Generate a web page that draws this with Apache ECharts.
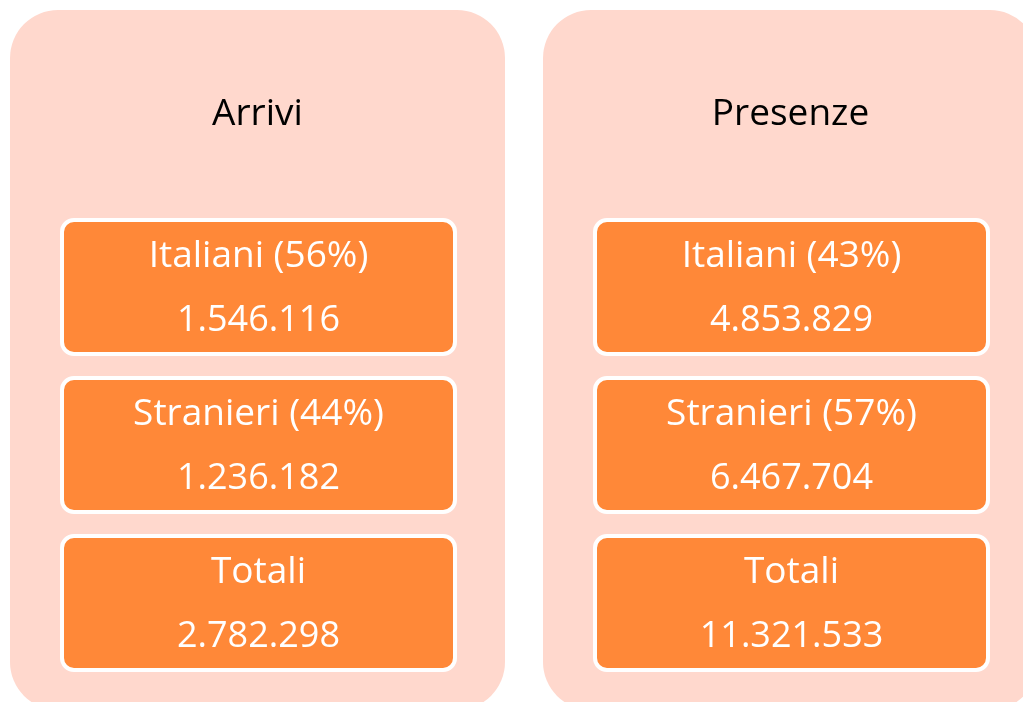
<!DOCTYPE html>
<html>
<head>
<meta charset="utf-8">
<script src="https://cdn.jsdelivr.net/npm/echarts@6/dist/echarts.min.js"></script>
<style>
  html,body{margin:0;padding:0;background:#fff;}
  #main{width:1023px;height:702px;}
</style>
</head>
<body>
<div id="main"></div>
<script>
// dati
var panelTitles = ['Arrivi', 'Presenze'];
var rowLabels = [
  ['Italiani (56%)', 'Stranieri (44%)', 'Totali'],
  ['Italiani (43%)', 'Stranieri (57%)', 'Totali']
];
var rowValues = [
  ['1.546.116', '1.236.182', '2.782.298'],
  ['4.853.829', '6.467.704', '11.321.533']
];

var chart = echarts.init(document.getElementById('main'));

var panelX = [10, 543];
var panelW = 495;
var boxTop = [218, 376, 534];
var boxH = 138;
var font = '"Open Sans", sans-serif';

var elements = [];
panelTitles.forEach(function (title, p) {
  var px = panelX[p];
  elements.push({
    type: 'rect',
    shape: { x: px, y: 10, width: panelW, height: 700, r: 48 },
    style: { fill: '#FFD8CD' }
  });
  elements.push({
    type: 'text',
    x: px + panelW / 2, y: 114,
    style: {
      text: title, fill: '#000', font: '37px ' + font,
      align: 'center', verticalAlign: 'middle'
    }
  });
  boxTop.forEach(function (by, i) {
    var bx = px + 50;
    var bw = panelW - 98;
    elements.push({
      type: 'rect',
      shape: { x: bx + 2, y: by + 2, width: bw - 4, height: boxH - 4, r: 12 },
      style: { fill: '#FF8838', stroke: '#fff', lineWidth: 4 }
    });
    elements.push({
      type: 'text',
      x: bx + bw / 2, y: by + 38,
      style: {
        text: rowLabels[p][i], fill: '#fff', font: '37px ' + font,
        align: 'center', verticalAlign: 'middle'
      }
    });
    elements.push({
      type: 'text',
      x: bx + bw / 2, y: by + 103,
      style: {
        text: rowValues[p][i], fill: '#fff', font: '36px ' + font,
        align: 'center', verticalAlign: 'middle'
      }
    });
  });
});

chart.setOption({
  animation: false,
  graphic: { elements: elements }
});
</script>
</body>
</html>
